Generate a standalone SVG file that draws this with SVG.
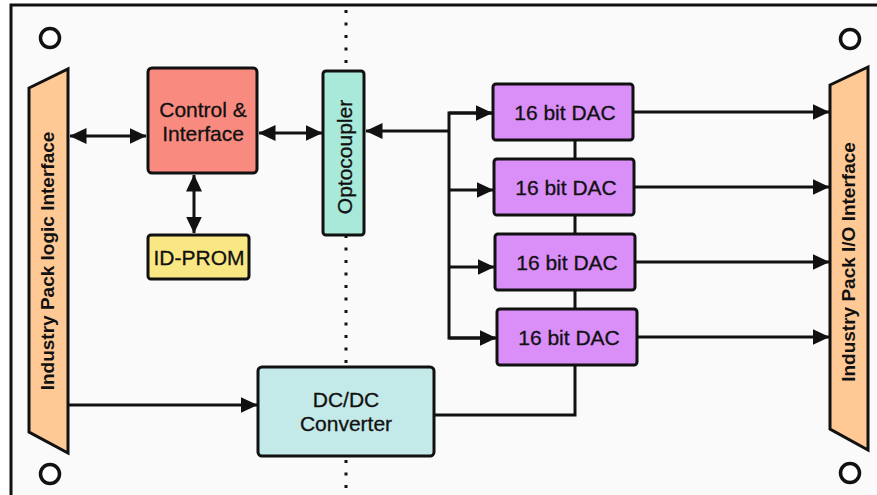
<svg xmlns="http://www.w3.org/2000/svg" width="877" height="495" viewBox="0 0 877 495">
<defs>
<style>
.box{stroke:#111;stroke-width:3}
.lbl{font-family:"Liberation Sans",Arial,sans-serif;font-size:21px;fill:#111;text-anchor:middle;stroke:#111;stroke-width:0.3}
.vl{font-family:"Liberation Sans",Arial,sans-serif;font-size:19px;font-weight:bold;fill:#111;text-anchor:middle}
.ln{stroke:#111;stroke-width:3;fill:none}
.hole{fill:#fff;stroke:#111;stroke-width:3.5}
</style>
<marker id="ah" viewBox="0 0 17 16" refX="16.5" refY="8" markerWidth="17" markerHeight="16" markerUnits="userSpaceOnUse" orient="auto-start-reverse">
<path d="M0,0 L17,8 L0,16 Z" fill="#111"/>
</marker>
</defs>
<rect x="0" y="0" width="877" height="495" fill="#ffffff"/>
<rect x="11" y="5" width="880" height="500" fill="#fafafa" stroke="#111" stroke-width="3"/>
<line x1="346" y1="10" x2="346" y2="495" stroke="#111" stroke-width="3" stroke-dasharray="3 9.5"/>
<g id="holes">
<circle class="hole" cx="50" cy="38" r="9.5"/>
<circle class="hole" cx="850" cy="39" r="9.5"/>
<circle class="hole" cx="50" cy="474" r="9.5"/>
<circle class="hole" cx="850" cy="473" r="9.5"/>
</g>
<g id="connectors">
<line class="ln" x1="70" y1="136" x2="146" y2="136" marker-start="url(#ah)" marker-end="url(#ah)"/>
<line class="ln" x1="259" y1="133" x2="322" y2="133" marker-start="url(#ah)" marker-end="url(#ah)"/>
<line class="ln" x1="194" y1="175" x2="194" y2="233" marker-start="url(#ah)" marker-end="url(#ah)"/>
<line class="ln" x1="366" y1="131" x2="449" y2="131" marker-start="url(#ah)"/>
<path class="ln" d="M492,113 H449 V338 H495"/>
<line class="ln" x1="449" y1="113" x2="492" y2="113" marker-end="url(#ah)"/>
<line class="ln" x1="449" y1="190" x2="493" y2="190" marker-end="url(#ah)"/>
<line class="ln" x1="449" y1="267" x2="494" y2="267" marker-end="url(#ah)"/>
<line class="ln" x1="449" y1="338" x2="496" y2="338" marker-end="url(#ah)"/>
<line class="ln" x1="575" y1="140" x2="575" y2="309"/>
<path class="ln" d="M575,365 V415 H434"/>
<line class="ln" x1="633" y1="112" x2="829" y2="112" marker-end="url(#ah)"/>
<line class="ln" x1="634" y1="187" x2="829" y2="187" marker-end="url(#ah)"/>
<line class="ln" x1="635" y1="262" x2="829" y2="262" marker-end="url(#ah)"/>
<line class="ln" x1="637" y1="337" x2="829" y2="337" marker-end="url(#ah)"/>
<line class="ln" x1="68" y1="405" x2="257" y2="405" marker-end="url(#ah)"/>
</g>
<g id="ip-logic">
<polygon class="box" points="29,88 68,69 68,453 29,432" fill="#fec994"/>
<text class="vl" transform="translate(54,261) rotate(-90)">Industry Pack logic Interface</text>
</g>
<g id="ip-io">
<polygon class="box" points="830,85 868,67 868,450 830,429" fill="#fec994"/>
<text class="vl" transform="translate(855,262) rotate(-90)">Industry Pack I/O Interface</text>
</g>
<g id="control">
<rect class="box" x="148" y="68" width="109" height="105" rx="4" fill="#f88a80"/>
<text class="lbl" x="203" y="117">Control &amp;</text>
<text class="lbl" x="203" y="141">Interface</text>
</g>
<g id="idprom">
<rect class="box" x="148" y="235" width="101" height="44" rx="3" fill="#f9e784"/>
<text class="lbl" x="199" y="265">ID-PROM</text>
</g>
<g id="optocoupler">
<rect class="box" x="323" y="71" width="41" height="164" rx="3" fill="#a8e9d9"/>
<text class="lbl" transform="translate(352,157) rotate(-90)">Optocoupler</text>
</g>
<g id="dac1">
<rect class="box" x="493" y="84" width="140" height="56" rx="3" fill="#d98ef8"/>
<text class="lbl" x="565" y="120">16 bit DAC</text>
</g>
<g id="dac2">
<rect class="box" x="494" y="159" width="140" height="56" rx="3" fill="#d98ef8"/>
<text class="lbl" x="566" y="195">16 bit DAC</text>
</g>
<g id="dac3">
<rect class="box" x="495" y="234" width="140" height="56" rx="3" fill="#d98ef8"/>
<text class="lbl" x="567" y="270">16 bit DAC</text>
</g>
<g id="dac4">
<rect class="box" x="497" y="309" width="140" height="56" rx="3" fill="#d98ef8"/>
<text class="lbl" x="569" y="345">16 bit DAC</text>
</g>
<g id="dcdc">
<rect class="box" x="258" y="367" width="176" height="89" rx="4" fill="#c3e9e9"/>
<text class="lbl" x="346" y="407">DC/DC</text>
<text class="lbl" x="346" y="431">Converter</text>
</g>
</svg>
